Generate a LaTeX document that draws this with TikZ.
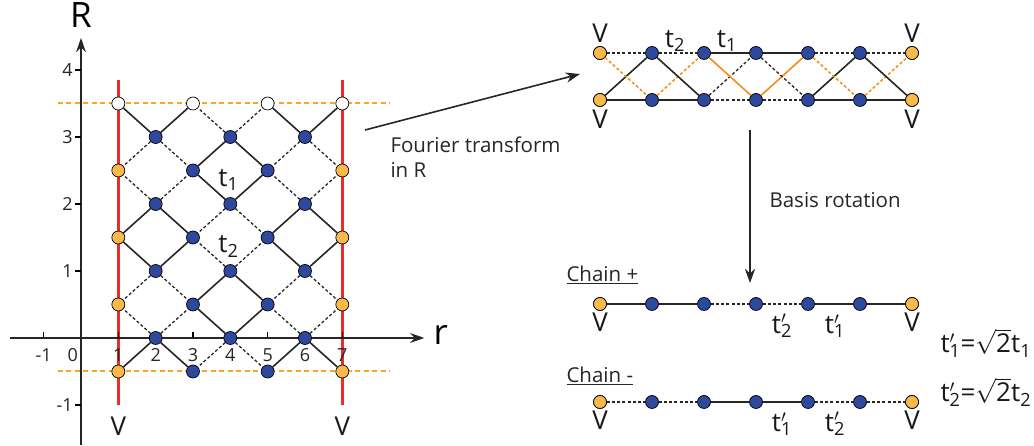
\documentclass[tikz,border=0pt]{standalone}
\usepackage{fontspec}
\setmainfont{Open Sans}
\usetikzlibrary{positioning,arrows.meta,calc}
\definecolor{siteB}{RGB}{46,72,158}
\definecolor{siteO}{RGB}{250,185,75}
\definecolor{wallR}{RGB}{238,45,38}
\definecolor{cutO}{RGB}{247,165,45}
\definecolor{hopO}{RGB}{242,140,30}

\newcommand{\tpr}[1]{t\rlap{$'$}\textsubscript{#1}}

\begin{document}
\begin{tikzpicture}[x=1pt, y=1pt,
  site/.style={circle, draw=black, line width=0.7pt, minimum size=13pt, inner sep=0pt},
  siteb/.style={site, fill=siteB},
  siteo/.style={site, fill=siteO},
  sitew/.style={site, fill=white},
  hop/.style={line width=1.6pt, color=black!85},
  hopd/.style={hop, line width=1.3pt, dash pattern=on 3pt off 2.2pt},
  ohop/.style={hop, color=hopO},
  ohopd/.style={ohop, line width=1.5pt, dash pattern=on 3pt off 2.2pt},
  axis/.style={line width=2pt, color=black!85, -{Stealth[length=5mm, width=3.4mm]}},
  lbl/.style={font=\fontsize{20.5}{25}\selectfont, color=black!85},
  tick/.style={font=\fontsize{18}{20}\selectfont, color=black!85},
  bigl/.style={font=\fontsize{26}{28}\selectfont, color=black!90},
  arr/.style={line width=1.6pt, color=black!85, -{Stealth[length=5mm, width=3.6mm]}},
]
\useasboundingbox (0,0) rectangle (1034,446);

% ---------- lattice in (r,R) ----------
\begin{scope}[shift={(81,108)}, x=37.33pt, y=67pt]
  % walls and cuts
  \draw[draw=wallR, line width=3pt] (1,3.85) -- (1,-1);
  \draw[draw=wallR, line width=3pt] (7,3.85) -- (7,-1);
  \draw[draw=cutO, line width=2pt, dash pattern=on 5pt off 3.5pt] (-0.62,3.5) -- (8.28,3.5);
  \draw[draw=cutO, line width=2pt, dash pattern=on 5pt off 3.5pt] (-0.62,-0.5) -- (8.28,-0.5);

  % axes
  \draw[axis] (-1.9,0) -- (9.2,0);
  \draw[axis] (0,-1.6) -- (0,4.48);
  \node[font=\fontsize{35}{36}\selectfont] (Rlab) at (0,4.82) {R};
  \node[font=\fontsize{35}{36}\selectfont] (rlab) at (9.64,0.05) {r};
  \foreach \x in {-1,1,2,...,7}{
    \draw[line width=1.4pt] (\x,0) -- (\x,0.09);
  }
  \foreach \x in {-1,1,2,...,7}{
    \node[tick] at (\x,-0.25) {\x};
  }
  \node[tick] at (-0.22,-0.25) {0};
  \foreach \y in {-1,1,2,3,4}{
    \draw[line width=1.4pt] (0,\y) -- (-0.15,\y);
    \node[tick, anchor=east] at (-0.13,\y) {\y};
  }

  % sites
  \foreach \j in {0,2,4,6}{
    \node[siteo] (s1-\j) at (1,\j/2-0.5) {};
    \node[siteb] (s3-\j) at (3,\j/2-0.5) {};
    \node[siteb] (s5-\j) at (5,\j/2-0.5) {};
    \node[siteo] (s7-\j) at (7,\j/2-0.5) {};
  }
  \foreach \r in {1,3,5,7}
    \node[sitew] (s\r-8) at (\r,3.5) {};
  \foreach \r in {2,4,6}
    \foreach \j in {1,3,5,7}
      \node[siteb] (s\r-\j) at (\r,{(\j-1)/2}) {};

  % hoppings
  \foreach \r in {2,4,6}{
    \foreach \j in {1,3,5,7}{
      \pgfmathtruncatemacro{\odd}{mod(\r/2+(\j-1)/2,2)}
      \pgfmathtruncatemacro{\ra}{\r-1}
      \pgfmathtruncatemacro{\rb}{\r+1}
      \pgfmathtruncatemacro{\ja}{\j+1}
      \pgfmathtruncatemacro{\jb}{\j-1}
      \ifnum\odd=0 \def\ups{hop}\def\dns{hopd}\else\def\ups{hopd}\def\dns{hop}\fi
      \draw[\ups] (s\r-\j) -- (s\ra-\ja);
      \draw[\ups] (s\r-\j) -- (s\rb-\ja);
      \draw[\dns] (s\r-\j) -- (s\ra-\jb);
      \draw[\dns] (s\r-\j) -- (s\rb-\jb);
    }
  }

  \node[bigl] at (3.95,2.36) {t\textsubscript{1}};
  \node[bigl] at (3.95,1.37) {t\textsubscript{2}};
  \node[bigl] at (1,-1.32) {V};
  \node[bigl] at (7,-1.32) {V};
\end{scope}

% ---------- two-leg ladder ----------
\foreach \i in {1,...,7}{
  \pgfmathsetmacro{\xx}{600+52*(\i-1)}
  \node[siteb] (a\i) at (\xx,393) {};
  \node[siteb] (b\i) at (\xx,346) {};
}
\node[siteo] at (a1) {};
\node[siteo] at (a7) {};
\node[siteo] at (b1) {};
\node[siteo] at (b7) {};

\draw[hopd] (a1) -- (a2);
\draw[hopd] (a2) -- (a3);
\draw[hop] (a3) -- (a4);
\draw[hop] (a4) -- (a5);
\draw[hopd] (a5) -- (a6);
\draw[hopd] (a6) -- (a7);
\draw[hop] (b1) -- (b2);
\draw[hop] (b2) -- (b3);
\draw[hopd] (b3) -- (b4);
\draw[hopd] (b4) -- (b5);
\draw[hop] (b5) -- (b6);
\draw[hop] (b6) -- (b7);

\draw[hop] (b1) -- (a2);
\draw[ohopd] (a1) -- (b2);
\draw[ohopd] (b2) -- (a3);
\draw[hop] (a2) -- (b3);
\draw[hopd] (b3) -- (a4);
\draw[ohop] (a3) -- (b4);
\draw[ohop] (b4) -- (a5);
\draw[hopd] (a4) -- (b5);
\draw[hop] (b5) -- (a6);
\draw[ohopd] (a5) -- (b6);
\draw[ohopd] (b6) -- (a7);
\draw[hop] (a6) -- (b7);

\node[bigl, above=0pt of a1] {V};
\node[bigl, above=0pt of a7] {V};
\node[bigl, below=0pt of b1] {V};
\node[bigl, below=0pt of b7] {V};
\node[bigl] at (675,405) {t\textsubscript{2}};
\node[bigl] at (727,405) {t\textsubscript{1}};

% ---------- Fourier arrow ----------
\coordinate (ft0) at (365,316);
\coordinate (ft1) at (580,372);
\draw[arr] (ft0) -- (ft1);
\node[lbl, align=left, anchor=north west] (ftlab) at (387,313) {Fourier transform\\in R};

% ---------- basis rotation ----------
\coordinate (br0) at (750,316);
\coordinate (br1) at (750,163);
\draw[arr] (br0) -- (br1);
\node[lbl, anchor=west] (brlab) at (766,246) {Basis rotation};

% ---------- decoupled chains ----------
\node[lbl, anchor=west] (cp) at (563,171) {\underline{Chain +}};
\node[lbl, anchor=west] (cm) at (563,70) {\underline{Chain -}};
\foreach \i in {1,...,7}{
  \pgfmathsetmacro{\xx}{600+52*(\i-1)}
  \node[siteb] (c\i) at (\xx,142) {};
  \node[siteb] (d\i) at (\xx,44) {};
}
\node[siteo] at (c1) {};
\node[siteo] at (c7) {};
\node[siteo] at (d1) {};
\node[siteo] at (d7) {};

\draw[hop] (c1) -- (c2);
\draw[hop] (c2) -- (c3);
\draw[hopd] (c3) -- (c4);
\draw[hopd] (c4) -- (c5);
\draw[hop] (c5) -- (c6);
\draw[hop] (c6) -- (c7);
\draw[hopd] (d1) -- (d2);
\draw[hopd] (d2) -- (d3);
\draw[hop] (d3) -- (d4);
\draw[hop] (d4) -- (d5);
\draw[hopd] (d5) -- (d6);
\draw[hopd] (d6) -- (d7);

\node[bigl, below=-1pt of c1] {V};
\node[bigl, below=-1pt of c7] {V};
\node[bigl, below=-1pt of d1] {V};
\node[bigl, below=-1pt of d7] {V};
\node[bigl] at (782,120) {\tpr{2}};
\node[bigl] at (835,120) {\tpr{1}};
\node[bigl] at (782,22) {\tpr{1}};
\node[bigl] at (835,22) {\tpr{2}};

\node[bigl, anchor=west] (eq1) at (937,103) {\tpr{1}=\(\sqrt{\mbox{2}}\)t\textsubscript{1}};
\node[bigl, anchor=west] (eq2) at (937,54) {\tpr{2}=\(\sqrt{\mbox{2}}\)t\textsubscript{2}};
\end{tikzpicture}
\end{document}
